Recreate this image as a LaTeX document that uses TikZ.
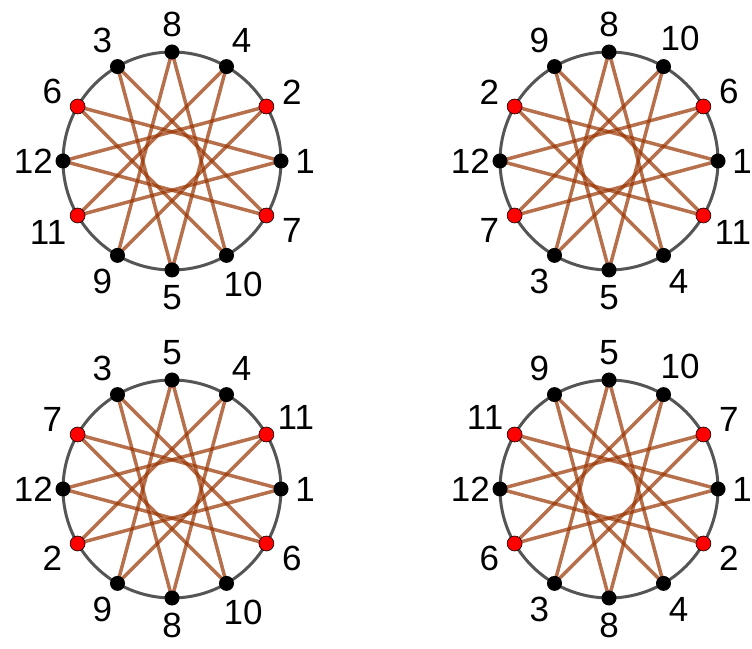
\documentclass[tikz,border=0pt]{standalone}
\usepackage{fontspec}
\setmainfont{Liberation Sans}
\usetikzlibrary{backgrounds}
\definecolor{chordbrown}{RGB}{153,51,0}
\definecolor{ringgray}{RGB}{85,85,85}

\begin{document}
\begin{tikzpicture}[x=1pt, y=1pt, font=\fontsize{35}{42}\selectfont]
  \tikzstyle{ring}=[draw=ringgray, line width=3pt]
  \tikzstyle{chord}=[draw=chordbrown, draw opacity=0.7, line width=3.5pt]
  \tikzstyle{dot}=[circle, fill=black, inner sep=0pt, minimum size=15pt]
  \tikzstyle{rdot}=[dot, fill=red, draw=black, line width=0.6pt]
  \tikzstyle{every label}=[inner sep=0pt, anchor=center]

  \useasboundingbox (0,0) rectangle (752,648);

  % --- top left ---
  \coordinate (tl) at (172,487);
  \foreach \lbl/\sty [count=\k from 0] in {1/dot,2/rdot,4/dot,8/dot,3/dot,6/rdot,12/dot,11/rdot,9/dot,5/dot,10/dot,7/rdot} {
    \pgfmathtruncatemacro\ang{\k*30}
    \pgfmathsetmacro\dist{7 + ((\lbl>9) ? 15 : 9.5)*abs(cos(\ang)) + 12.5*abs(sin(\ang))}
    \node[\sty, label={[label distance=\dist pt]\ang:\lbl}] (tl\k) at ([shift={(\ang:109pt)}]tl) {};
  }
  \begin{pgfonlayer}{background}
    \draw[ring] (tl) circle (109pt);
    \foreach \k in {0,...,11} {
      \pgfmathtruncatemacro\j{mod(\k+5,12)}
      \draw[chord] (tl\k.center) -- (tl\j.center);
    }
  \end{pgfonlayer}

  % --- top right ---
  \coordinate (tr) at (609,487);
  \foreach \lbl/\sty [count=\k from 0] in {1/dot,6/rdot,10/dot,8/dot,9/dot,2/rdot,12/dot,7/rdot,3/dot,5/dot,4/dot,11/rdot} {
    \pgfmathtruncatemacro\ang{\k*30}
    \pgfmathsetmacro\dist{7 + ((\lbl>9) ? 15 : 9.5)*abs(cos(\ang)) + 12.5*abs(sin(\ang))}
    \node[\sty, label={[label distance=\dist pt]\ang:\lbl}] (tr\k) at ([shift={(\ang:109pt)}]tr) {};
  }
  \begin{pgfonlayer}{background}
    \draw[ring] (tr) circle (109pt);
    \foreach \k in {0,...,11} {
      \pgfmathtruncatemacro\j{mod(\k+5,12)}
      \draw[chord] (tr\k.center) -- (tr\j.center);
    }
  \end{pgfonlayer}

  % --- bottom left ---
  \coordinate (bl) at (172,159);
  \foreach \lbl/\sty [count=\k from 0] in {1/dot,11/rdot,4/dot,5/dot,3/dot,7/rdot,12/dot,2/rdot,9/dot,8/dot,10/dot,6/rdot} {
    \pgfmathtruncatemacro\ang{\k*30}
    \pgfmathsetmacro\dist{7 + ((\lbl>9) ? 15 : 9.5)*abs(cos(\ang)) + 12.5*abs(sin(\ang))}
    \node[\sty, label={[label distance=\dist pt]\ang:\lbl}] (bl\k) at ([shift={(\ang:109pt)}]bl) {};
  }
  \begin{pgfonlayer}{background}
    \draw[ring] (bl) circle (109pt);
    \foreach \k in {0,...,11} {
      \pgfmathtruncatemacro\j{mod(\k+5,12)}
      \draw[chord] (bl\k.center) -- (bl\j.center);
    }
  \end{pgfonlayer}

  % --- bottom right ---
  \coordinate (br) at (609,159);
  \foreach \lbl/\sty [count=\k from 0] in {1/dot,7/rdot,10/dot,5/dot,9/dot,11/rdot,12/dot,6/rdot,3/dot,8/dot,4/dot,2/rdot} {
    \pgfmathtruncatemacro\ang{\k*30}
    \pgfmathsetmacro\dist{7 + ((\lbl>9) ? 15 : 9.5)*abs(cos(\ang)) + 12.5*abs(sin(\ang))}
    \node[\sty, label={[label distance=\dist pt]\ang:\lbl}] (br\k) at ([shift={(\ang:109pt)}]br) {};
  }
  \begin{pgfonlayer}{background}
    \draw[ring] (br) circle (109pt);
    \foreach \k in {0,...,11} {
      \pgfmathtruncatemacro\j{mod(\k+5,12)}
      \draw[chord] (br\k.center) -- (br\j.center);
    }
  \end{pgfonlayer}
\end{tikzpicture}
\end{document}
